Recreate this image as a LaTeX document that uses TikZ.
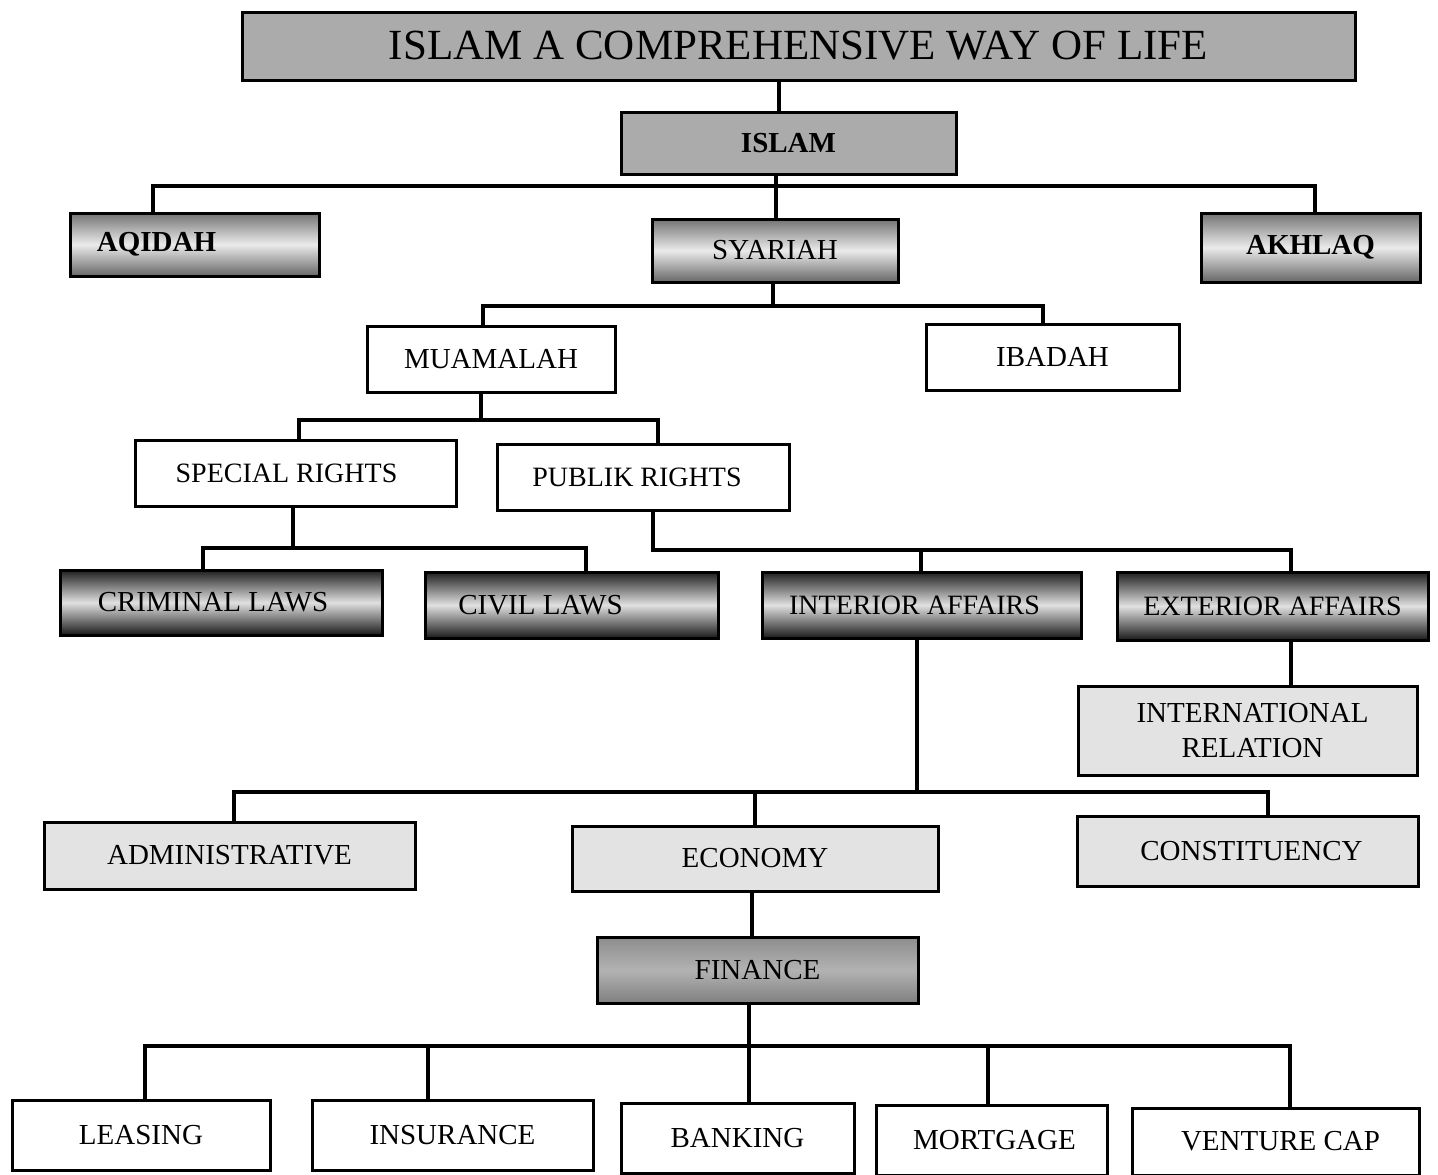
\documentclass[tikz,border=0pt]{standalone}
\usepackage{fontspec}
\setmainfont{Liberation Serif}
\begin{document}
\begin{tikzpicture}[x=1pt,y=-1pt,
  box/.style={draw=black, line width=3pt, inner sep=0pt, align=center,
    font=\fontsize{29}{35}\selectfont},
  bigf/.style={font=\fontsize{43}{46}\selectfont},
  midf/.style={font=\fontsize{28}{34}\selectfont},
  greybox/.style={box, fill=black!33},
  lightbox/.style={box, fill=black!11},
  softgrad/.style={box, top color=black!55, bottom color=black!60, middle color=black!8},
  darkgrad/.style={box, top color=black!88, bottom color=black!90, middle color=black!12},
  finbox/.style={box, top color=black!45, bottom color=black!50, middle color=black!30},
  wbox/.style={box, fill=white},
  conn/.style={draw=black, line width=3.2pt}
]
\useasboundingbox[fill=white] (0,0) rectangle (1438,1175);

% ---- nodes ----
\node[greybox, bigf, minimum width=1113, minimum height=68] (title) at (798.5,46) {ISLAM A COMPREHENSIVE WAY OF LIFE};
\node[greybox, minimum width=335, minimum height=62] (islam) at (788.5,143) {\bfseries ISLAM};

\node[softgrad, minimum width=249, minimum height=63] (aqidah) at (194.5,244.5) {\bfseries AQIDAH\hspace*{76pt}};
\node[softgrad, minimum width=246, minimum height=63] (syariah) at (775,250.5) {SYARIAH};
\node[softgrad, minimum width=219, minimum height=69] (akhlaq) at (1310.5,247.5) {\bfseries AKHLAQ};

\node[wbox, minimum width=248, minimum height=66] (muamalah) at (491,359) {MUAMALAH};
\node[wbox, minimum width=253, minimum height=66] (ibadah) at (1052.5,357) {IBADAH};

\node[wbox, midf, minimum width=321, minimum height=66] (special) at (295.5,473) {SPECIAL RIGHTS\hspace*{18pt}};
\node[wbox, midf, minimum width=292, minimum height=66] (publik) at (643,477) {PUBLIK RIGHTS\hspace*{12pt}};

\node[darkgrad, minimum width=322, minimum height=65] (criminal) at (221,602.5) {CRIMINAL LAWS\hspace*{16pt}};
\node[darkgrad, minimum width=293, minimum height=66] (civil) at (571.5,605) {CIVIL LAWS\hspace*{62pt}};
\node[darkgrad, midf, minimum width=319, minimum height=66] (interior) at (921.5,605) {INTERIOR AFFAIRS\hspace*{14pt}};
\node[darkgrad, midf, minimum width=311, minimum height=68] (exterior) at (1272.5,606) {EXTERIOR AFFAIRS};

\node[lightbox, minimum width=339, minimum height=89] (intl) at (1247.5,730.5) {\hspace*{10pt}INTERNATIONAL\\\hspace*{10pt}RELATION};

\node[lightbox, minimum width=371, minimum height=67] (admin) at (229.5,855.5) {ADMINISTRATIVE};
\node[lightbox, minimum width=366, minimum height=65] (economy) at (755,858.5) {ECONOMY};
\node[lightbox, minimum width=341, minimum height=70] (constit) at (1247.5,851) {\hspace*{8pt}CONSTITUENCY};

\node[finbox, minimum width=321, minimum height=66] (finance) at (757.5,970) {FINANCE};

\node[wbox, minimum width=258, minimum height=70] (leasing) at (141,1135) {LEASING};
\node[wbox, minimum width=281, minimum height=70] (insurance) at (452.5,1135) {INSURANCE};
\node[wbox, minimum width=233, minimum height=70] (banking) at (737.5,1138) {BANKING};
\node[wbox, minimum width=231, minimum height=70] (mortgage) at (991.5,1140) {\hspace*{6pt}MORTGAGE};
\node[wbox, minimum width=287, minimum height=67] (venture) at (1275.5,1141.5) {\hspace*{10pt}VENTURE CAP};

% ---- connectors ----
\draw[conn] (title.south -| 779,0) -- (islam.north -| 779,0);

\draw[conn] (islam.south -| 776,0) -- (syariah.north -| 776,0);
\draw[conn] (aqidah.north -| 153,0) |- (1315,186) -- (akhlaq.north -| 1315,0);

\draw[conn] (syariah.south -| 773,0) -- (773,306);
\draw[conn] (muamalah.north -| 483,0) |- (1043,306) -- (ibadah.north -| 1043,0);

\draw[conn] (muamalah.south -| 481,0) -- (481,420);
\draw[conn] (special.north -| 299,0) |- (658,420) -- (publik.north -| 658,0);

\draw[conn] (special.south -| 293,0) -- (293,548);
\draw[conn] (criminal.north -| 203,0) |- (586,548) -- (civil.north -| 586,0);

\draw[conn] (publik.south -| 653,0) |- (1291,550) -- (exterior.north -| 1291,0);
\draw[conn] (interior.north -| 921,0) -- (921,550);

\draw[conn] (exterior.south -| 1291,0) -- (intl.north -| 1291,0);

\draw[conn] (interior.south -| 917,0) -- (917,792);
\draw[conn] (admin.north -| 234,0) |- (1268,792) -- (constit.north -| 1268,0);
\draw[conn] (economy.north -| 755,0) -- (755,792);

\draw[conn] (economy.south -| 752,0) -- (finance.north -| 752,0);

\draw[conn] (finance.south -| 749,0) -- (banking.north -| 749,0);
\draw[conn] (leasing.north -| 145,0) |- (1290,1046) -- (venture.north -| 1290,0);
\draw[conn] (insurance.north -| 428,0) -- (428,1046);
\draw[conn] (mortgage.north -| 988,0) -- (988,1046);
\end{tikzpicture}
\end{document}
